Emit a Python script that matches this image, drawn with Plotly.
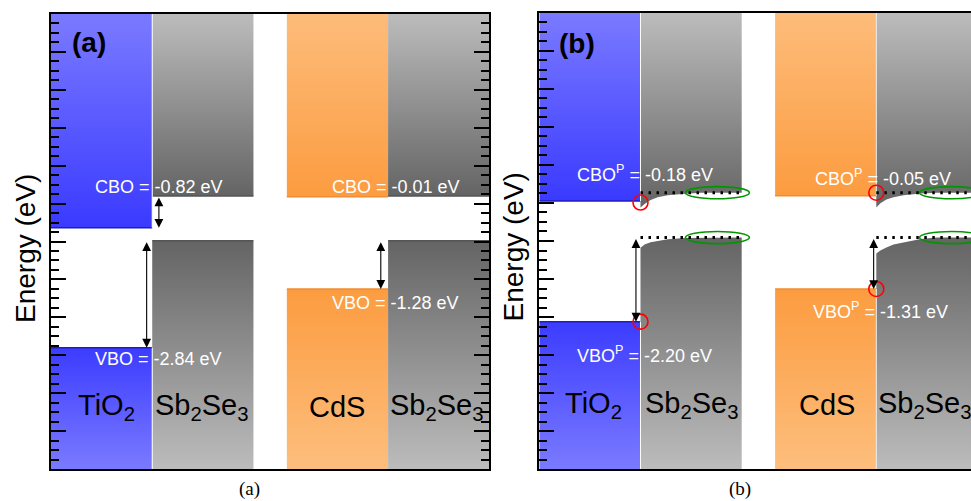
import plotly.graph_objects as go

# ---------------- data (energies in eV, arbitrary zero) ----------------
materials = ["TiO<sub>2</sub>", "Sb<sub>2</sub>Se<sub>3</sub>", "CdS", "Sb<sub>2</sub>Se<sub>3</sub>"]

# panel (a): flat-band alignment
ec_a = [0.36, 1.20, 1.18, 1.20]
ev_a = [-2.80, 0.02, -1.25, 0.02]
labels_a = ["CBO = -0.82 eV", "VBO = -2.84 eV", "CBO = -0.01 eV", "VBO = -1.28 eV"]

# panel (b): with band bending (flat values far from interface)
ec_b = [1.05, 1.27, 1.19, 1.27]
ev_b = [-2.12, 0.09, -1.26, 0.09]
labels_b = ["CBO<sup>P</sup> = -0.18 eV", "VBO<sup>P</sup> = -2.20 eV",
            "CBO<sup>P</sup> = -0.05 eV", "VBO<sup>P</sup> = -1.31 eV"]

# band bending in Sb2Se3 near the interface (distance from interface, band edge)
bend_dx = [0.0, 0.04, 0.10, 0.17, 0.27, 0.44, 0.60]
bend_ec_tio2 = [0.88, 0.97, 1.08, 1.15, 1.20, 1.24, 1.27]
bend_ev_tio2 = [-0.18, -0.09, -0.03, 0.01, 0.045, 0.08, 0.09]
bend_ec_cds = [0.88, 0.99, 1.09, 1.15, 1.20, 1.25, 1.27]
bend_ev_cds = [-0.33, -0.25, -0.17, -0.09, -0.03, 0.05, 0.09]

# ---------------- layout constants ----------------
W, H = 971, 501
block_l = [0.0, 1.0, 2.33, 3.33]
block_r = [1.0, 2.0, 3.33, 4.33]
ETOP, EBOT = 6.0, -6.0

grad = {
    "blue_cb": [[0, "rgb(58,58,255)"], [1, "rgb(122,122,255)"]],
    "blue_vb": [[0, "rgb(122,122,255)"], [1, "rgb(60,60,255)"]],
    "gray_cb": [[0, "rgb(100,100,100)"], [1, "rgb(188,188,188)"]],
    "gray_vb": [[0, "rgb(188,188,188)"], [1, "rgb(100,100,100)"]],
    "or_cb": [[0, "rgb(252,156,64)"], [1, "rgb(253,188,122)"]],
    "or_vb": [[0, "rgb(253,190,125)"], [1, "rgb(252,156,64)"]],
}
kinds = ["blue", "gray", "or", "gray"]
edge_col = {"blue": "rgb(30,30,190)", "gray": "rgb(85,85,85)", "or": "rgb(240,140,50)"}

fig = go.Figure()


def poly(xs, ys, cs, xa, ya):
    fig.add_trace(go.Scatter(x=xs, y=ys, mode="lines", fill="toself",
                             fillgradient=dict(type="vertical", colorscale=cs),
                             line=dict(width=0), xaxis=xa, yaxis=ya,
                             hoverinfo="skip", showlegend=False))


def seg(xs, ys, color, width, xa, ya, dash=None):
    fig.add_trace(go.Scatter(x=xs, y=ys, mode="lines",
                             line=dict(color=color, width=width, dash=dash),
                             xaxis=xa, yaxis=ya, hoverinfo="skip", showlegend=False))


# ---- panel (a) ----
for i in range(4):
    l, r, k = block_l[i], block_r[i], kinds[i]
    poly([l, r, r, l, l], [ec_a[i], ec_a[i], ETOP, ETOP, ec_a[i]], grad[k + "_cb"], "x", "y")
    poly([l, r, r, l, l], [EBOT, EBOT, ev_a[i], ev_a[i], EBOT], grad[k + "_vb"], "x", "y")
    seg([l, r], [ec_a[i], ec_a[i]], edge_col[k], 1.5, "x", "y")
    seg([l, r], [ev_a[i], ev_a[i]], edge_col[k], 1.5, "x", "y")

# ---- panel (b) ----
bends = {1: (bend_ec_tio2, bend_ev_tio2), 3: (bend_ec_cds, bend_ev_cds)}
for i in range(4):
    l, r, k = block_l[i], block_r[i], kinds[i]
    if i in bends:
        bec, bev = bends[i]
        bx = [l + d for d in bend_dx]
        xs = [l, r, r, bx[-1]] + bx[::-1][1:] + [l]
        ys = [ETOP, ETOP, ec_b[i], bec[-1]] + bec[::-1][1:] + [ETOP]
        poly(xs, ys, grad[k + "_cb"], "x2", "y2")
        ys = [EBOT, EBOT, ev_b[i], bev[-1]] + bev[::-1][1:] + [EBOT]
        poly(xs, ys, grad[k + "_vb"], "x2", "y2")
    else:
        poly([l, r, r, l, l], [ec_b[i], ec_b[i], ETOP, ETOP, ec_b[i]], grad[k + "_cb"], "x2", "y2")
        poly([l, r, r, l, l], [EBOT, EBOT, ev_b[i], ev_b[i], EBOT], grad[k + "_vb"], "x2", "y2")
        seg([l, r], [ec_b[i], ec_b[i]], edge_col[k], 1.5, "x2", "y2")
        seg([l, r], [ev_b[i], ev_b[i]], edge_col[k], 1.5, "x2", "y2")

# separators
seg([1.0, 1.0], [ec_a[0], ETOP], "white", 1, "x", "y")
seg([1.0, 1.0], [EBOT, ev_a[0]], "white", 1, "x", "y")
seg([1.0, 1.0], [ec_b[0], ETOP], "white", 1, "x2", "y2")
seg([1.0, 1.0], [EBOT, ev_b[0]], "white", 1, "x2", "y2")
seg([3.33, 3.33], [ec_b[2], ETOP], "rgb(235,235,235)", 1, "x2", "y2")
seg([3.33, 3.33], [EBOT, ev_b[2]], "rgb(235,235,235)", 1, "x2", "y2")

# dotted flat-band lines in Sb2Se3 (panel b)
for i in (1, 3):
    seg([block_l[i], block_r[i]], [ec_b[i], ec_b[i]], "black", 3, "x2", "y2", dash="2.5px,5.5px")
    seg([block_l[i], block_r[i]], [ev_b[i], ev_b[i]], "black", 3, "x2", "y2", dash="2.5px,5.5px")

# red circles at the interfaces
circ_x = [block_l[1], block_l[1], block_l[3], block_l[3]]
circ_y = [ec_b[0] - 0.04, ev_b[0], ec_b[3], ev_b[2]]
fig.add_trace(go.Scatter(x=circ_x, y=circ_y, mode="markers",
                         marker=dict(symbol="circle-open", size=15, color="red",
                                     line=dict(width=1.6, color="red")),
                         xaxis="x2", yaxis="y2", hoverinfo="skip", showlegend=False))

shapes = []
# green ellipses on the flat bands
for cx in (1.76, 4.073):
    for e in (ec_b[1], ev_b[1]):
        shapes.append(dict(type="circle", xref="x2", yref="y2",
                           x0=cx - 0.316, x1=cx + 0.316, y0=e - 0.16, y1=e + 0.16,
                           line=dict(color="rgb(0,150,0)", width=1.6)))

ann = []
txt = dict(color="white", size=18, family="Liberation Sans, Arial")


def label(x, y, t, xr, yr, font, **kw):
    ann.append(dict(x=x, y=y, text=t, xref=xr, yref=yr, showarrow=False, font=font,
                    xanchor="center", yanchor="middle", **kw))


def darrow(x, e1, e2, xr, yr):
    ann.append(dict(x=x, y=e2, ax=x, ay=e1, xref=xr, yref=yr, axref=xr, ayref=yr,
                    text="", showarrow=True, arrowhead=2, startarrowhead=2,
                    arrowside="end+start", arrowsize=1.6, startarrowsize=1.6,
                    arrowwidth=1.1, arrowcolor="black", standoff=0, startstandoff=0))


# panel (a) annotations
label(1.066, 1.44, labels_a[0], "x", "y", txt)
label(1.066, -3.10, labels_a[1], "x", "y", txt)
label(3.406, 1.45, labels_a[2], "x", "y", txt)
label(3.406, -1.62, labels_a[3], "x", "y", txt)
darrow(1.066, ec_a[1], ec_a[0], "x", "y")
darrow(0.945, ev_a[1], ev_a[0], "x", "y")
darrow(3.258, ev_a[3], ev_a[2], "x", "y")

# panel (b) annotations
label(1.043, 1.78, labels_b[0], "x2", "y2", txt)
label(1.043, -2.97, labels_b[1], "x2", "y2", txt)
label(3.393, 1.68, labels_b[2], "x2", "y2", txt)
label(3.373, -1.82, labels_b[3], "x2", "y2", txt)
darrow(0.955, ev_b[1], ev_b[0], "x2", "y2")
darrow(3.304, ev_b[3], ev_b[2], "x2", "y2")

# material names
mfont = dict(color="black", size=29, family="Liberation Sans, Arial")
for xs, xr, yr, e in [([0.553, 1.496, 2.823, 3.818], "x", "y", -4.37),
                      ([0.533, 1.512, 2.84, 3.813], "x2", "y2", -4.31)]:
    for x, m in zip(xs, materials):
        label(x, e, m, xr, yr, mfont)

# panel tags
bfont = dict(color="black", size=28, family="Liberation Sans, Arial")
label(0.375, 5.24, "<b>(a)</b>", "x", "y", bfont)
label(0.377, 5.19, "<b>(b)</b>", "x2", "y2", bfont)

# axis titles and captions
efont = dict(color="black", size=28, family="Liberation Sans, Arial")
label(25 / W, 1 - 249 / H, "Energy (eV)", "paper", "paper", efont, textangle=-90)
label(513 / W, 1 - 247.5 / H, "Energy (eV)", "paper", "paper", efont, textangle=-90)
cfont = dict(color="black", size=19, family="Liberation Serif, Times New Roman")
label(249 / W, 1 - 489 / H, "(a)", "paper", "paper", cfont, borderpad=0)
label(740 / W, 1 - 489 / H, "(b)", "paper", "paper", cfont, borderpad=0)

xcommon = dict(showline=True, linecolor="black", linewidth=2, mirror=True, ticks="",
               showticklabels=False, showgrid=False, zeroline=False)
ycommon = dict(showline=True, linecolor="black", linewidth=2, ticks="inside", ticklen=15,
               tickwidth=2, tickcolor="black", dtick=1, tick0=0,
               minor=dict(ticks="inside", ticklen=8, tickwidth=1.8, tickcolor="black", dtick=0.25),
               showticklabels=False, showgrid=False, zeroline=False, range=[EBOT, ETOP])

fig.update_layout(
    width=W, height=H, margin=dict(l=0, r=0, t=0, b=0, autoexpand=False),
    paper_bgcolor="white", plot_bgcolor="white", showlegend=False,
    xaxis=dict(domain=[51 / W, 489.3 / W], range=[0, 4.33], anchor="y", **xcommon),
    yaxis=dict(domain=[1 - 469 / H, 1 - 14 / H], anchor="x", mirror="allticks", **ycommon),
    xaxis2=dict(domain=[539.3 / W, 1.0], range=[0, (W - 539.3) / 101.2], anchor="y2", **xcommon),
    yaxis2=dict(domain=[1 - 469.3 / H, 1 - 12.7 / H], anchor="x2", mirror=False, **ycommon),
    shapes=shapes, annotations=ann,
)

fig.write_html("out.html", config={"displayModeBar": False},
               post_script="document.body.style.margin='0px';document.body.style.overflow='hidden';")
